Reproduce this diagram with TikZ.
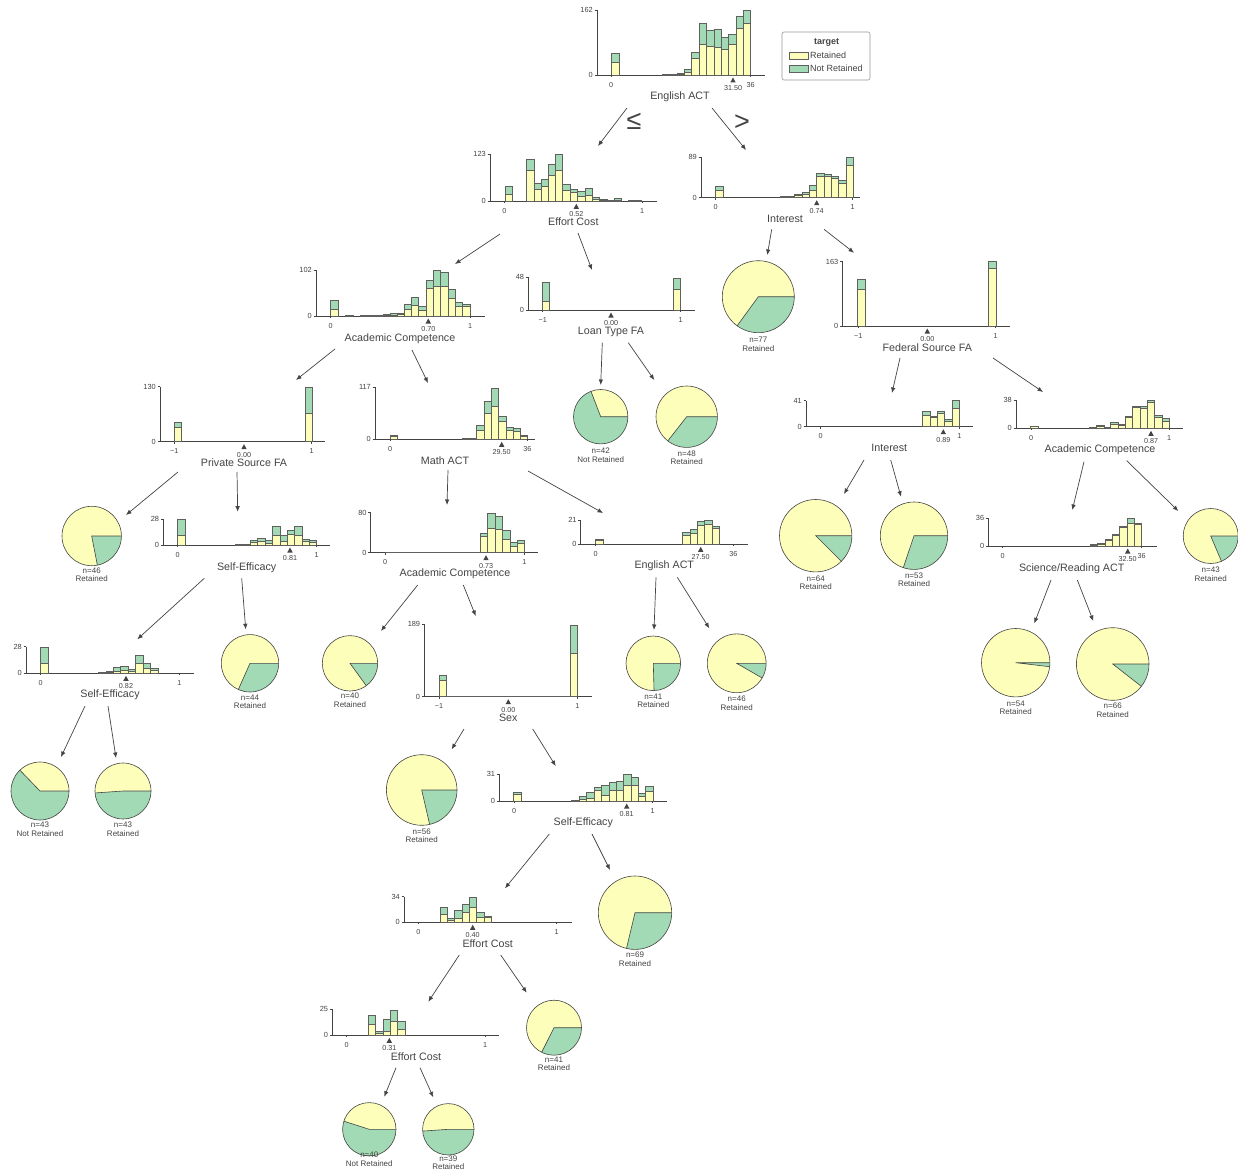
\documentclass[tikz,border=0pt]{standalone}
\usepackage{fontspec}
\setmainfont{Liberation Sans}
\usetikzlibrary{arrows.meta}
\definecolor{ink}{HTML}{444443}
\definecolor{ret}{HTML}{FEFEBB}
\definecolor{notret}{HTML}{A1DAB4}
\tikzset{
  axisln/.style={draw=ink, line width=0.9pt},
  binln/.style={draw=ink!85, line width=0.6pt},
  pieln/.style={draw=ink, line width=0.6pt},
  edge/.style={draw=ink, line width=0.7pt, -{Latex[length=5.5pt,width=4.5pt]}},
  feat/.style={text=ink, font=\fontsize{10.7}{12}\selectfont, inner sep=0pt},
  tick/.style={text=ink, font=\fontsize{7.2}{8}\selectfont, inner sep=0pt},
  ytick/.style={text=ink, font=\fontsize{7.4}{8}\selectfont, inner sep=0pt, anchor=east},
  leaf/.style={text=ink, font=\fontsize{8}{9}\selectfont, inner sep=0pt},
  legtext/.style={text=ink, font=\fontsize{9}{10}\selectfont, inner sep=0pt, anchor=west},
  cmp/.style={text=ink, font=\fontsize{27}{28}\selectfont, inner sep=0pt},
}
% axes of a histogram: axis x, baseline y, top y, end x, max count
\newcommand{\histaxes}[5]{%
  \draw[axisln] (#1,#3) -- (#1,#2) -- (#4,#2);
  \draw[axisln] (#1-2.5,#3) -- (#1,#3);
  \draw[axisln] (#1-2.5,#2) -- (#1,#2);
  \node[ytick] at (#1-4,#3) {#5};
  \node[ytick] at (#1-4,#2) {0};
}
% stacked bins on baseline #1: left/right/total top/retained top
\newcommand{\bins}[2]{%
  \foreach \bl/\br/\bt/\by in {#2}{%
    \fill[ret] (\bl,#1) rectangle (\br,\by);
    \fill[notret] (\bl,\by) rectangle (\br,\bt);
    \draw[binln] (\bl,#1) rectangle (\br,\bt);
    \draw[binln] (\bl,\by) -- (\br,\by);
  }}
% x tick label: x, baseline, text
\newcommand{\xtk}[3]{%
  \draw[axisln] (#1,#2) -- (#1,#2+2);
  \node[tick] at (#1,#2+9.7) {#3};}
% split marker: x, baseline, value
\newcommand{\splitmark}[3]{%
  \fill[ink] (#1-2.7,#2+7.5) -- (#1+2.7,#2+7.5) -- (#1,#2+2.5) -- cycle;
  \node[tick] at (#1,#2+13) {#3};}
% leaf pie: name, cx, cy, radius, angle of the not-retained share
\newcommand{\leafpie}[5]{%
  \fill[ret] (#2,#3) circle (#4);
  \fill[notret] (#2,#3) -- +(0:#4) arc (0:#5:#4) -- cycle;
  \draw[pieln] (#2,#3) +(0:#4) -- (#2,#3) -- +(#5:#4);
  \draw[pieln] (#2,#3) circle (#4);
  \coordinate (#1) at (#2,#3);}
% leaf caption: name, x, y of first line, count, class
\newcommand{\leafcap}[5]{%
  \node[leaf] (#1n) at (#2,#3) {n=#4};
  \node[leaf] (#1c) at (#2,#3+8.4) {#5};}

\begin{document}
\begin{tikzpicture}[x=1pt,y=-1pt]
\useasboundingbox (0,0) rectangle (1238,1174);
\clip (0,0) rectangle (1238,1174);
\fill[white] (0,0) rectangle (1238,1174);

% ---------- root: English ACT ----------
\histaxes{597}{75}{10}{765}{162}
\bins{75}{611/619/53/62, 662.7/670/74.3/74.6, 670/677.3/74/74.6, 677.3/684.3/73/74, 684.3/691.7/69.3/72.3, 691.7/699/52.7/58.3, 699/706.7/23.3/44, 706.7/714/30.7/46, 714/721.3/29.3/47.3, 721.3/728.7/37.3/49.3, 728.7/736/34/44, 736/743.3/16.7/28.3, 743.3/750.7/10.7/23.3}
\xtk{611}{75}{0}\xtk{750.7}{75}{36}
\splitmark{733}{75}{31.50}
\node[feat] (root) at (680,96.5) {English ACT};

% legend
\node[draw=ink!55, rounded corners=2pt, line width=0.6pt, minimum width=88pt, minimum height=48pt, inner sep=0pt] (legend) at (826,56) {};
\node[text=ink, font=\bfseries\fontsize{9}{10}\selectfont, inner sep=0pt] (legtitle) at (826.7,42.5) {target};
\draw[binln, fill=ret] (789,52) rectangle (808,59);
\node[legtext] (legret) at (810,55.5) {Retained};
\draw[binln, fill=notret] (789,65.5) rectangle (808,72);
\node[legtext] (legnot) at (810,68.7) {Not Retained};

\node[cmp] (le) at (634,121) {≤};
\node[cmp] (gt) at (742,123) {>};

% ---------- Effort Cost ----------
\histaxes{490}{201.3}{154}{656.7}{123}
\bins{201.3}{505/512.7/186.7/194, 526.7/534/159.3/170.7, 534/541/183.3/189, 541/548.3/179.3/186.3, 548.3/555.7/164.3/175.7, 555.7/562.7/154/170, 562.7/570/184.3/190.7, 570/577.3/189.3/192.3, 577.3/585/191.7/196, 585/592.3/188.7/195, 592.3/599.7/197.7/199.3, 599.7/607/199.7/200.3, 607/614.3/200/200.7, 614.3/621.7/198.7/200.3, 628/635/200.4/200.9, 635/641.7/200.4/200.9}
\xtk{504.3}{201.3}{0}\xtk{642}{201.3}{1}
\splitmark{576.3}{201.3}{0.52}
\node[feat] (ecost) at (573.3,221.7) {Effort Cost};

% ---------- Interest ----------
\histaxes{701}{197.7}{157.3}{860}{89}
\bins{197.7}{715/723.3/186.7/190.7, 780/787.3/196/197, 787.3/794.7/196.5/197.2, 794.7/802/194/195.3, 802/809.3/192.3/194.3, 809.3/816.7/185.7/190, 816.7/824/173.3/176.7, 824/831.3/174.3/176.7, 831.3/838.7/176/178.3, 838.7/846/180.7/183.3, 846/853.3/157.7/165}
\xtk{715.7}{197.7}{0}\xtk{852.7}{197.7}{1}
\splitmark{816.7}{197.7}{0.74}
\node[feat] (interest) at (785,219) {Interest};

\leafpie{p77}{758.3}{296.7}{36}{126}
\leafcap{p77}{758.3}{340}{77}{Retained}

% ---------- Academic Competence ----------
\histaxes{316}{316}{270}{485}{102}
\bins{316}{330.5/338.5/300.7/309.3, 345/353/315.2/315.6, 360/383/315.2/315.6, 383/390.7/314.5/315.3, 390.7/397.3/313.7/315, 397.3/404/313.3/314.5, 404/411.3/304.3/309, 411.3/418.7/297.3/305.7, 418.7/426/306/310, 426/433.3/280.7/288.3, 433.3/440.7/270.7/286, 440.7/448/272.7/286, 448/455.3/289/298.3, 455.3/462.7/302.3/306, 462.7/470/304.3/306.7}
\xtk{330.7}{316}{0}\xtk{470}{316}{1}
\splitmark{428.3}{316}{0.70}
\node[feat] (acad1) at (400,338.3) {Academic Competence};

% ---------- Loan Type FA ----------
\histaxes{528.3}{310}{277.3}{695}{48}
\bins{310}{542.3/549.3/282.3/301.7, 673.3/680.7/278.3/289.3}
\xtk{542.7}{310}{−1}\xtk{680.7}{310}{1}
\splitmark{611}{310}{0.00}
\node[feat] (loan) at (611,331.7) {Loan Type FA};

\leafpie{p42}{600.7}{416.7}{27.2}{249}
\leafcap{p42}{600.7}{451}{42}{Not Retained}
\leafpie{p48}{686.7}{416.7}{30.7}{128}
\leafcap{p48}{686.7}{453.3}{48}{Retained}

% ---------- Federal Source FA ----------
\histaxes{842.5}{326}{261.5}{1010}{163}
\bins{326}{857.3/865/279.3/289.3, 988.3/996/261.7/268.3}
\xtk{858.3}{326}{−1}\xtk{995.7}{326}{1}
\splitmark{927.3}{326}{0.00}
\node[feat] (fed) at (927.3,347.3) {Federal Source FA};

% ---------- Private Source FA ----------
\histaxes{160}{441.7}{386.7}{325}{130}
\bins{441.7}{174.3/181.7/422.7/427.3, 305/312.3/387.3/413.3}
\xtk{174.3}{441.7}{−1}\xtk{311.7}{441.7}{1}
\splitmark{244}{441.7}{0.00}
\node[feat] (priv) at (244,462.3) {Private Source FA};

% ---------- Math ACT ----------
\histaxes{375}{439.3}{387.3}{535}{117}
\bins{439.3}{390/397.3/435.7/436.7, 462/469.3/438.5/439, 469.3/476.7/438.3/439, 476.7/484/425/430, 484/491.3/401.7/413.3, 491.3/498.7/388.3/406.7, 498.7/506/416.7/421.7, 506/513.3/427.7/430, 513.3/520.7/428.3/431, 520.7/527.7/435.3/436.7}
\xtk{390}{439.3}{0}\xtk{527.3}{439.3}{36}
\splitmark{501.7}{439.3}{29.50}
\node[feat] (math) at (445,460.7) {Math ACT};

\leafpie{p46}{91.7}{536}{29.7}{79}
\leafcap{p46}{91.7}{570.7}{46}{Retained}

% ---------- Self-Efficacy (upper) ----------
\histaxes{163.3}{545}{519.3}{330}{28}
\bins{545}{177.7/185/519.3/535, 235/242.5/544.3/544.7, 242.5/250/544.2/544.7, 250/257.3/540/542.7, 257.3/265/538.7/541.7, 265/272.3/540.7/543.3, 272.3/280/526.7/535, 280/287.3/535/541, 287.3/294.7/530.7/534.3, 294.7/302/526.7/535, 302/309.3/539/541.7, 309.3/316.7/540/542}
\xtk{177.7}{545}{0}\xtk{316.7}{545}{1}
\splitmark{290}{545}{0.81}
\node[feat] (self1) at (246.7,567.3) {Self-Efficacy};

\leafpie{p44}{250}{663.3}{28.7}{114}
\leafcap{p44}{250}{697.3}{44}{Retained}

% ---------- Self-Efficacy (left) ----------
\histaxes{26}{673.3}{646.7}{194}{28}
\bins{673.3}{40.7/48.3/647.3/663.3, 98.5/106/672.3/672.8, 106/113.3/671.7/672.5, 113.3/120.7/667.7/671, 120.7/128.3/666.7/670.3, 128.3/135.7/669/671.7, 135.7/143.3/655/663.3, 143.3/150.7/663.3/668.3, 150.7/158/668.3/670.7}
\xtk{40.7}{673.3}{0}\xtk{179.3}{673.3}{1}
\splitmark{126}{673.3}{0.82}
\node[feat] (self2) at (110,694.3) {Self-Efficacy};

\leafpie{p43a}{40}{791}{29}{226}
\leafcap{p43a}{40}{825}{43}{Not Retained}
\leafpie{p43b}{123}{791}{28}{176}
\leafcap{p43b}{123}{825}{43}{Retained}

% ---------- Academic Competence (middle) ----------
\histaxes{370.7}{552.7}{512.7}{538.3}{80}
\bins{552.7}{385/480.7/551.9/552.3, 480.7/487.7/533.3/536.7, 487.7/495.3/513.3/528.3, 495.3/502.7/516/529.3, 502.7/510/530.7/539.3, 510/517.3/542.7/546.7, 517.3/524.7/540.7/543.3}
\xtk{385}{552.7}{0}\xtk{524.3}{552.7}{1}
\splitmark{486}{552.7}{0.73}
\node[feat] (acad3) at (455,574) {Academic Competence};

% ---------- English ACT (middle) ----------
\histaxes{580.7}{544.3}{520}{747.7}{21}
\bins{544.3}{595/603.3/539.3/540.7, 682.7/690/532.3/535.7, 690/697.3/529/533.3, 697.3/704.7/521.7/525, 704.7/712/520.7/524.3, 712/719.3/526.7/528.3}
\xtk{595.7}{544.3}{0}\xtk{733.3}{544.3}{36}
\splitmark{700.7}{544.3}{27.50}
\node[feat] (eng2) at (664.3,566) {English ACT};

\leafpie{p40}{350}{663.3}{27.7}{54}
\leafcap{p40}{350}{696}{40}{Retained}
\leafpie{p41}{653.3}{663.3}{27.3}{88.5}
\leafcap{p41}{653.3}{696.7}{41}{Retained}
\leafpie{p46b}{736.7}{663.3}{29.4}{30}
\leafcap{p46b}{736.7}{699}{46}{Retained}

% ---------- Sex ----------
\histaxes{424.3}{696.7}{624}{591.7}{189}
\bins{696.7}{439/446.7/675.7/680.7, 446.7/570/696.1/696.4, 570/577.3/625/653.3}
\xtk{439}{696.7}{−1}\xtk{577.3}{696.7}{1}
\splitmark{508.3}{696.7}{0.00}
\node[feat] (sex) at (508.3,718.3) {Sex};

\leafpie{p56}{421.7}{790}{35.3}{77}
\leafcap{p56}{421.7}{831.7}{56}{Retained}

% ---------- Self-Efficacy (lower) ----------
\histaxes{499.3}{801}{774.3}{666.7}{31}
\bins{801}{513.3/521/792.7/794.3, 571.7/579.3/800.2/800.7, 579.3/586.7/796/799.3, 586.7/594/792.3/798.3, 594/601.7/787.3/790.7, 601.7/609/785/795, 609/616.3/782.7/790, 616.3/623.7/781.7/790.7, 623.7/631/774.3/785, 631/638.3/777.7/785, 638.3/645.7/793.3/796.7, 645.7/653/786/791}
\xtk{514}{801}{0}\xtk{652.7}{801}{1}
\splitmark{626.7}{801}{0.81}
\node[feat] (self3) at (583.3,822.7) {Self-Efficacy};

\leafpie{p69}{635}{912.7}{36.7}{103.4}
\leafcap{p69}{635}{955}{69}{Retained}

% ---------- Effort Cost (lower) ----------
\histaxes{404}{922.3}{896.7}{571.7}{34}
\bins{922.3}{440/447.3/907.3/914, 447.3/454.7/918.7/920.7, 454.7/462/910.7/918.3, 462/469.3/904/912.3, 469.3/476.7/897.3/907.7, 476.7/484/912.7/917.3, 484/491.3/916.7/917.3}
\xtk{418.3}{922.3}{0}\xtk{556.7}{922.3}{1}
\splitmark{472.7}{922.3}{0.40}
\node[feat] (ecost2) at (487.7,944) {Effort Cost};

\leafpie{p41b}{554}{1027.7}{27.5}{116.7}
\leafcap{p41b}{554}{1059.3}{41}{Retained}

% ---------- Effort Cost (bottom) ----------
\histaxes{332.3}{1035.3}{1009.3}{499.3}{25}
\bins{1035.3}{368.3/375.7/1015.7/1024.3, 375.7/383/1031.7/1033.3, 383/390.3/1019.3/1031, 390.3/397.7/1010/1021.7, 397.7/405/1021.7/1029.3}
\xtk{346.7}{1035.3}{0}\xtk{485}{1035.3}{1}
\splitmark{389.3}{1035.3}{0.31}
\node[feat] (ecost3) at (416,1056.7) {Effort Cost};

\leafpie{p40b}{369.3}{1129.3}{26.7}{197.7}
\leafcap{p40b}{369.3}{1155}{40}{Not Retained}
\leafpie{p39}{448.3}{1129.3}{25.7}{176}
\leafcap{p39}{448.3}{1158.3}{39}{Retained}

% ---------- Interest (right) ----------
\histaxes{806}{426.7}{400.7}{973.3}{41}
\bins{426.7}{922.7/930/411.7/415, 930/937.3/416.7/417.3, 937.3/944.7/411.7/413.3, 944.7/952/419.3/421.7, 952/959.3/400.7/408.3}
\xtk{820.7}{426.7}{0}\xtk{959.3}{426.7}{1}
\splitmark{943.3}{426.7}{0.89}
\node[feat] (interest2) at (889.3,448.3) {Interest};

\leafpie{p64}{815.7}{535.7}{36.2}{45}
\leafcap{p64}{815.7}{578.3}{64}{Retained}
\leafpie{p53}{914}{535.7}{33.7}{108.5}
\leafcap{p53}{914}{575.7}{53}{Retained}

% ---------- Academic Competence (right) ----------
\histaxes{1016}{428.3}{400}{1183.3}{38}
\bins{428.3}{1030/1038.3/426/426.7, 1089.3/1096.7/427.3/427.8, 1096.7/1104/425.7/426.7, 1104/1110.7/427.3/427.8, 1110.7/1118/422.3/424, 1118/1125.3/424.3/425, 1125.3/1132.7/416.7/417.3, 1132.7/1140/406/407.3, 1140/1147.3/406/408.3, 1147.3/1154.7/400/402.7, 1154.7/1162/415/417.3, 1162/1169.3/418.3/421.7}
\xtk{1031}{428.3}{0}\xtk{1169}{428.3}{1}
\splitmark{1151}{428.3}{0.87}
\node[feat] (acad2) at (1100,450) {Academic Competence};

\leafpie{p43c}{1210.7}{536}{27.5}{67}
\leafcap{p43c}{1210.7}{570}{43}{Retained}

% ---------- Science/Reading ACT ----------
\histaxes{988.3}{546}{518.3}{1156.7}{36}
\bins{546}{1090/1097.7/544.3/544.8, 1097.7/1105/543.3/543.8, 1105/1112.3/539.3/540.7, 1112.3/1119.7/534.3/535, 1119.7/1127/526.7/527.3, 1127/1134.3/518.3/523.3, 1134.3/1141.7/523.3/524.3}
\xtk{1002.7}{546}{0}\xtk{1141.7}{546}{36}
\splitmark{1127.7}{546}{32.50}
\node[feat] (sciread) at (1071.7,568.3) {Science/Reading ACT};

\leafpie{p54}{1015.7}{662.7}{34.2}{6.7}
\leafcap{p54}{1015.7}{703.3}{54}{Retained}
\leafpie{p66}{1112.7}{664}{36.3}{38}
\leafcap{p66}{1112.7}{706}{66}{Retained}

% ---------- connectors ----------
\foreach \nm/\sx/\sy/\ex/\ey in {
  root-ecost/627/108/598/146, root-interest/712/108/746/150,
  ecost-acad1/500/234/455/264, ecost-loan/578/233/592/270,
  interest-p77/771.7/229.3/767.3/255, interest-fed/824/229.3/854/252.7,
  acad1-priv/335/349/296/380, acad1-math/412/350/428/383,
  loan-p42/602.3/342.7/600.7/385, loan-p48/628.3/342.7/654.3/380,
  fed-interest2/900/358/892/393, fed-acad2/993/358/1043/392,
  priv-p46/178/472/126/515, priv-self1/237/472/237.7/511.7,
  math-acad3/448/470/447/505, math-eng2/528/471/603/513,
  interest2-p64/864/460/844/494, interest2-p53/890.7/460/901/496.7,
  acad2-sciread/1084/461.7/1072.3/510, acad2-p43c/1126.7/460.7/1178.3/511,
  self1-self2/204.3/578.3/137.3/639.3, self1-p44/241.7/578.3/245.7/629.3,
  acad3-p40/417.7/585/381/631, acad3-sex/463.3/585/475.7/616,
  eng2-p41/656/577.3/654/630, eng2-p46b/677.3/577.3/709.3/628.3,
  sciread-p54/1051/580/1034.3/623.3, sciread-p66/1077.3/580/1093.3/621,
  self2-p43a/85/706/61/757, self2-p43b/108/706/116/758,
  sex-p56/464/729/451.7/749.3, sex-self3/532.7/729/555.7/766,
  self3-ecost2/549.3/834/505/888.3, self3-p69/592/834/610/870,
  ecost2-ecost3/459.3/955/428.3/1001.7, ecost2-p41b/500.7/955/526.7/992.7,
  ecost3-p40b/396/1067.7/384.3/1096.7, ecost3-p39/420/1067.7/433.3/1097.3}{
  \coordinate (\nm-s) at (\sx,\sy);
  \coordinate (\nm-e) at (\ex,\ey);
  \draw[edge] (\nm-s) -- (\nm-e);
}
\end{tikzpicture}
\end{document}
